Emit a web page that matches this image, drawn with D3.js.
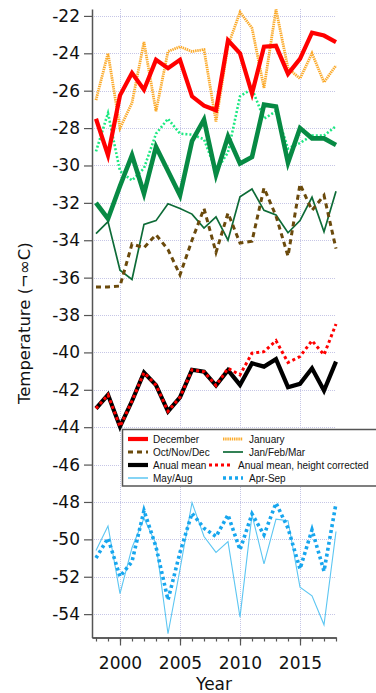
<!DOCTYPE html>
<html>
<head>
<meta charset="utf-8">
<script src="https://cdn.jsdelivr.net/npm/d3@7"></script>
<style>
  html, body { margin: 0; padding: 0; background: #fff; }
  svg { display: block; }
</style>
</head>
<body>
<svg id="chart" width="376" height="693"></svg>
<script>
// Temperature series, one value per year
const years = [1998, 1999, 2000, 2001, 2002, 2003, 2004, 2005, 2006, 2007, 2008,
               2009, 2010, 2011, 2012, 2013, 2014, 2015, 2016, 2017, 2018];

const december   = [-27.5, -29.45, -26.25, -25.05, -25.95, -24.35, -24.8, -24.35, -26.3, -26.8, -27.05,
                    -23.3, -24.0, -26.15, -23.65, -23.6, -25.1, -24.3, -22.9, -23.05, -23.4];
const january    = [-26.5, -24.0, -28.0, -26.65, -23.4, -27.1, -23.9, -23.65, -23.9, -23.8, -27.65,
                    -23.6, -21.8, -22.65, -25.85, -21.65, -24.8, -25.35, -24.0, -25.55, -24.65];
const febDotted  = [-29.25, -27.2, -30.3, -30.8, -30.15, -28.3, -27.5, -28.3, -28.35, -28.6, -30.3,
                    -29.3, -26.3, -25.9, -27.5, -27.1, -29.1, -28.8, -28.4, -28.4, -27.9];
const jfmBold    = [-32.0, -32.85, -31.1, -29.45, -31.5, -29.0, -30.3, -31.6, -28.7, -27.55, -30.5,
                    -28.45, -29.9, -29.55, -26.75, -26.85, -29.85, -28.0, -28.55, -28.55, -28.9];
const janFebMar  = [-33.65, -33.0, -35.6, -36.1, -33.15, -32.95, -32.05, -32.3, -32.6, -33.35, -32.75,
                    -34.0, -31.67, -31.26, -32.4, -32.65, -33.6, -32.95, -31.7, -33.55, -31.38];
const octNovDec  = [-36.5, -36.5, -36.45, -34.2, -34.4, -33.7, -34.5, -35.85, -34.0, -32.3, -34.65,
                    -32.55, -34.15, -34.05, -31.2, -32.7, -34.85, -31.0, -32.4, -31.6, -34.45];
const annualMean = [-43.0, -42.27, -43.97, -42.6, -41.08, -41.75, -43.15, -42.4, -40.93, -41.03, -41.77,
                    -40.95, -41.74, -40.58, -40.76, -40.36, -41.86, -41.68, -40.85, -42.04, -40.49];
const annualCorr = [-43.0, -42.27, -43.97, -42.6, -41.08, -41.75, -43.15, -42.4, -40.93, -41.03, -41.77,
                    -40.85, -41.2, -40.04, -39.96, -39.37, -40.54, -40.22, -39.37, -40.13, -38.48];
const mayAug     = [-50.6, -49.28, -52.9, -50.45, -48.87, -50.25, -55.05, -51.6, -48.03, -49.85, -50.7,
                    -50.12, -54.16, -48.69, -51.31, -48.92, -49.0, -52.56, -53.02, -54.57, -49.58];
const aprSep     = [-51.0, -49.94, -51.99, -51.19, -48.46, -50.4, -53.24, -50.7, -48.6, -49.4, -49.85,
                    -48.69, -50.56, -48.64, -49.76, -48.06, -49.4, -51.58, -49.49, -51.7, -48.08];

const yTickValues = [-54, -52, -50, -48, -46, -44, -42, -40, -38, -36, -34, -32, -30, -28, -26, -24, -22];
const xMajorTicks = [2000, 2005, 2010, 2015];

// Drawing order and line styles
const series = [
  { key: "febDotted",  values: febDotted,  color: "#1de982", width: 2.6, dash: "2,2" },
  { key: "january",    values: january,    color: "#fbaa2a", width: 2.8, dash: "1.4,0.8" },
  { key: "december",   values: december,   color: "#ff0000", width: 4.2, dash: null },
  { key: "jfmBold",    values: jfmBold,    color: "#078a44", width: 4.6, dash: null },
  { key: "janFebMar",  values: janFebMar,  color: "#0d6b37", width: 1.7, dash: null },
  { key: "octNovDec",  values: octNovDec,  color: "#6b4a0c", width: 3,   dash: "5,4" },
  { key: "annualMean", values: annualMean, color: "#000000", width: 4.2, dash: null },
  { key: "annualCorr", values: annualCorr, color: "#ff0000", width: 3,   dash: "3,3" },
  { key: "mayAug",     values: mayAug,     color: "#5cc6f2", width: 1.1, dash: null },
  { key: "aprSep",     values: aprSep,     color: "#17a6ee", width: 3.6, dash: "3,3" }
];
const styleOf = Object.fromEntries(series.map(s => [s.key, s]));

const legendRows = [
  [{ label: "December",    key: "december" },   { label: "January",     key: "january" }],
  [{ label: "Oct/Nov/Dec", key: "octNovDec" },  { label: "Jan/Feb/Mar", key: "janFebMar" }],
  [{ label: "Anual mean",  key: "annualMean" }, { label: "Anual mean, height corrected", key: "annualCorr" }],
  [{ label: "May/Aug",     key: "mayAug" },     { label: "Apr-Sep",     key: "aprSep" }]
];

const svg = d3.select("#chart");
const plotLeft = 92, plotRight = 336, plotTop = 9, plotBottom = 637.5;

const x = d3.scaleLinear().domain([1997.667, 2018]).range([plotLeft, plotRight]);
const y = d3.scaleLinear().domain([-55.25, -21.63]).range([plotBottom, plotTop]);

// grid
const grid = svg.append("g").attr("stroke", "#c6c6e6").attr("stroke-width", 1)
  .attr("stroke-dasharray", "1,1");
grid.selectAll("line.h").data(yTickValues).join("line").attr("class", "h")
  .attr("x1", plotLeft).attr("x2", plotRight)
  .attr("y1", d => Math.round(y(d)) + 0.5).attr("y2", d => Math.round(y(d)) + 0.5);
grid.selectAll("line.v").data(xMajorTicks).join("line").attr("class", "v")
  .attr("y1", plotTop).attr("y2", plotBottom)
  .attr("x1", d => Math.round(x(d)) + 0.5).attr("x2", d => Math.round(x(d)) + 0.5);

// lines
const line = d3.line().x((d, i) => x(years[i])).y(d => y(d));
svg.append("g").selectAll("path").data(series).join("path")
  .attr("d", s => line(s.values))
  .attr("fill", "none")
  .attr("stroke", s => s.color)
  .attr("stroke-width", s => s.width)
  .attr("stroke-dasharray", s => s.dash)
  .attr("stroke-linejoin", "miter")
  .attr("stroke-miterlimit", 4);

// axes
const axisColor = "#555";
const tickFont = "'DejaVu Sans', Verdana, sans-serif";

const yAxis = svg.append("g").attr("transform", `translate(${plotLeft},0)`)
  .call(d3.axisLeft(y).tickValues(yTickValues).tickFormat(d => String(d))
    .tickSize(8).tickSizeOuter(0).tickPadding(4));
const xMinor = svg.append("g").attr("transform", `translate(0,${plotBottom})`)
  .call(d3.axisBottom(x).tickValues(years).tickFormat("").tickSize(4).tickSizeOuter(0));
const xMajor = svg.append("g").attr("transform", `translate(0,${plotBottom})`)
  .call(d3.axisBottom(x).tickValues(xMajorTicks).tickFormat(d => String(d))
    .tickSize(8).tickSizeOuter(0).tickPadding(11.5));

[yAxis, xMinor, xMajor].forEach(g => {
  g.attr("font-family", tickFont).attr("font-size", 17);
  g.selectAll("path.domain").attr("stroke", axisColor).attr("stroke-width", 1.5);
  g.selectAll(".tick line").attr("stroke", axisColor).attr("stroke-width", 1.2);
  g.selectAll(".tick text").attr("fill", "#111");
});

// axis titles
svg.append("text")
  .attr("x", (plotLeft + plotRight) / 2).attr("y", 690)
  .attr("text-anchor", "middle")
  .attr("font-family", tickFont).attr("font-size", 17).attr("fill", "#111")
  .text("Year");
svg.append("text")
  .attr("transform", `translate(30,${(plotTop + plotBottom) / 2}) rotate(-90)`)
  .attr("text-anchor", "middle")
  .attr("font-family", tickFont).attr("font-size", 16.5).attr("fill", "#111")
  .text("Temperature (¬∞C)");

// legend
const legend = svg.append("g");
legend.append("rect")
  .attr("x", 122.5).attr("y", 429.5).attr("width", 262).attr("height", 56.5)
  .attr("fill", "#fff").attr("stroke", "#555").attr("stroke-width", 1.5);

const rowBase = [442.5, 455.5, 468.5, 481.5];
const col1Swatch = [223, 223, 209, 223];
const col1Width  = [20, 20, 21, 20];
const col1Text   = [249, 249, 238, 249];

legendRows.forEach((row, r) => {
  row.forEach((item, c) => {
    const st = styleOf[item.key];
    const sx = c === 0 ? 128 : col1Swatch[r];
    const sw = c === 0 ? 20 : col1Width[r];
    const tx = c === 0 ? 153 : col1Text[r];
    const sy = rowBase[r] - 3.5;
    legend.append("line")
      .attr("x1", sx).attr("x2", sx + sw).attr("y1", sy).attr("y2", sy)
      .attr("stroke", st.color)
      .attr("stroke-width", Math.max(st.width, 1.5))
      .attr("stroke-dasharray", st.dash);
    legend.append("text")
      .attr("x", tx).attr("y", rowBase[r])
      .attr("font-family", "'Liberation Sans', Arial, Helvetica, sans-serif")
      .attr("font-size", 10).attr("fill", "#111")
      .text(item.label);
  });
});
</script>
</body>
</html>
